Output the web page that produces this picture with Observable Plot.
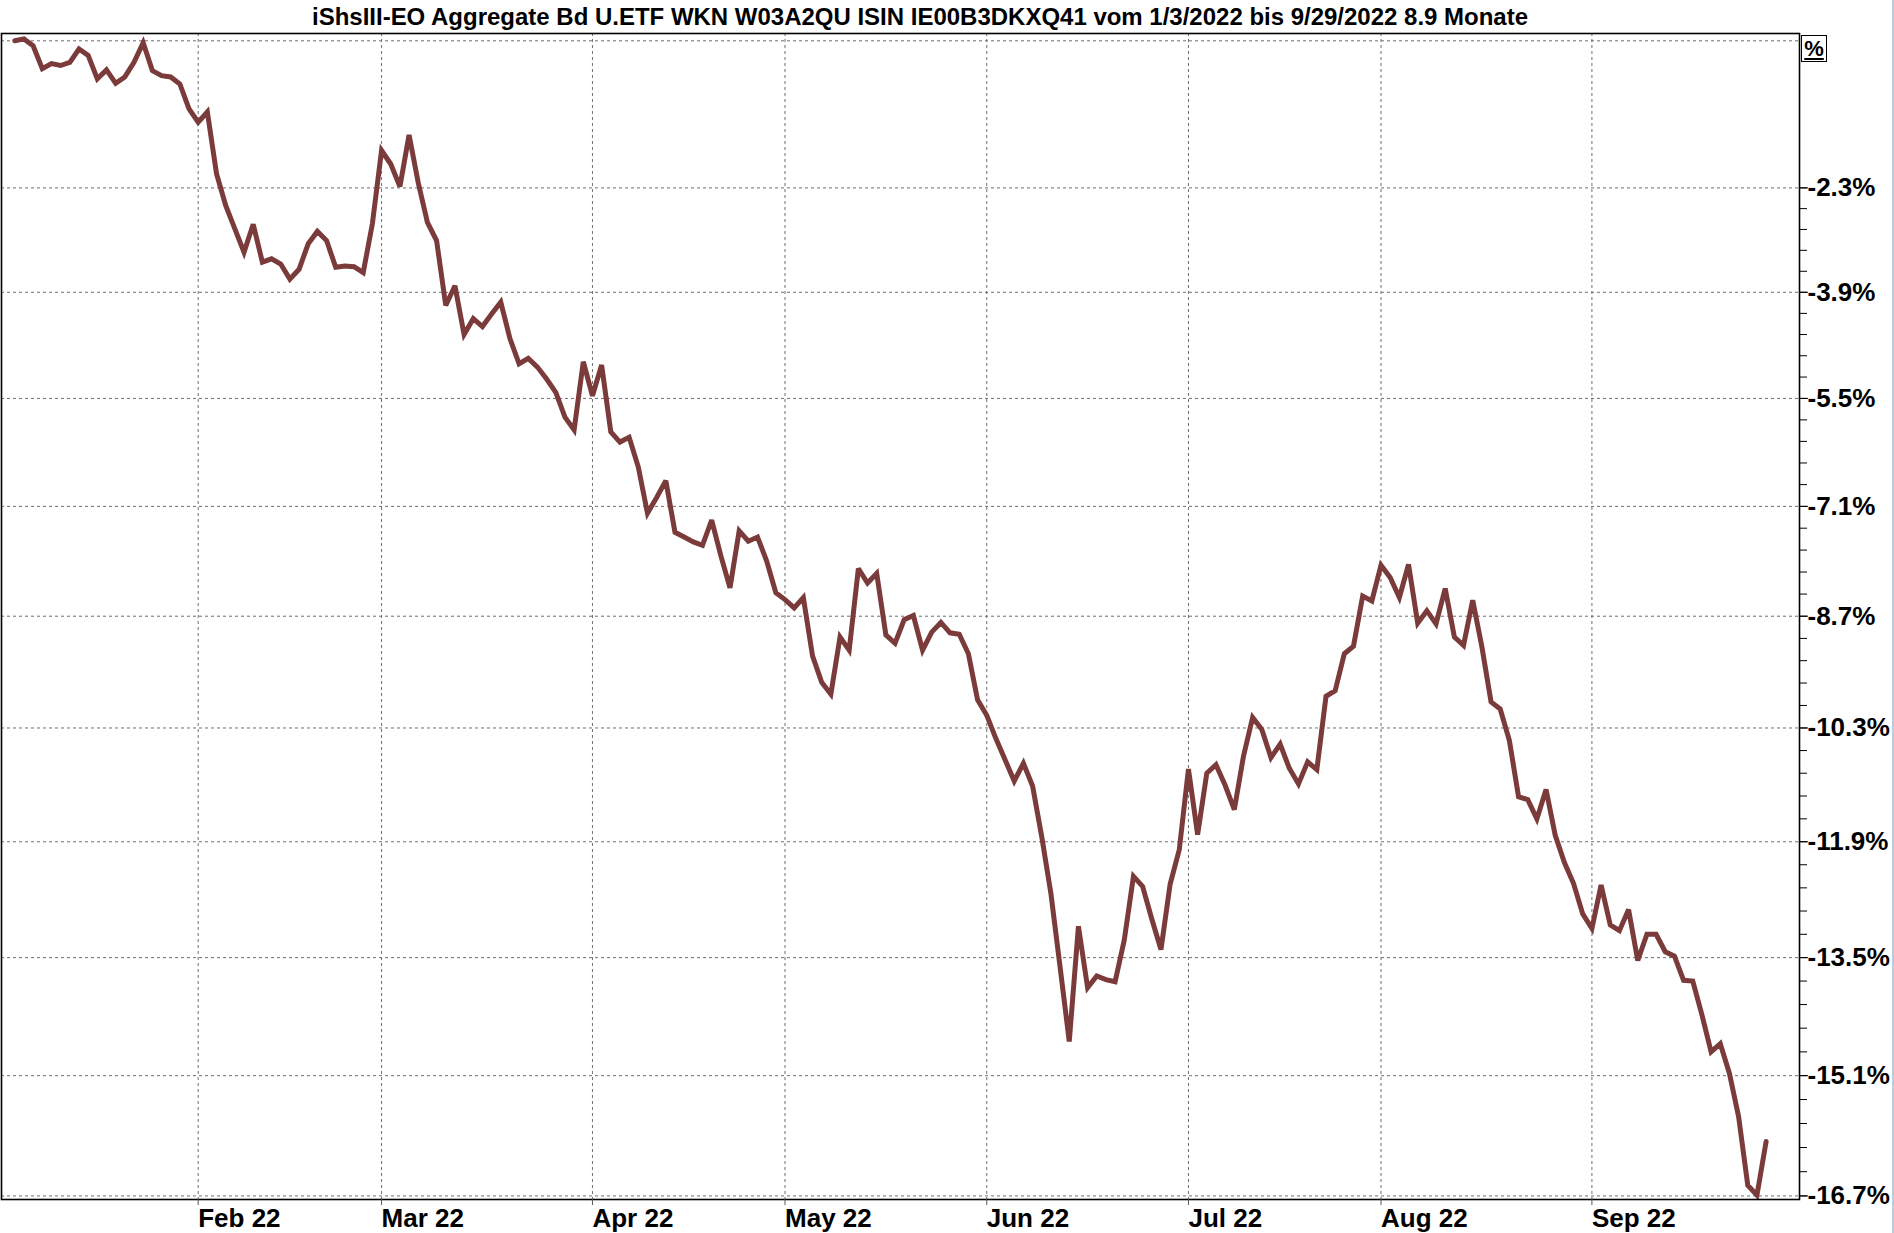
<!DOCTYPE html>
<html><head><meta charset="utf-8">
<script src="https://cdn.jsdelivr.net/npm/d3@7"></script>
<script src="https://cdn.jsdelivr.net/npm/@observablehq/plot@0.6"></script>
<style>
html,body{margin:0;padding:0;background:#fff;}
#wrap{position:relative;width:1894px;height:1233px;overflow:hidden;font-family:"Liberation Sans",Arial,sans-serif;}
#chart{position:absolute;left:0;top:0;}
#title{position:absolute;left:312px;top:6px;font-weight:bold;font-size:23px;line-height:1;white-space:nowrap;transform-origin:0 0;color:#000;}
#pct{position:absolute;left:1801px;top:35px;width:26px;height:27px;box-sizing:border-box;border:1px solid #000;font-weight:bold;font-size:22px;text-decoration:underline;text-align:center;line-height:25px;color:#000;}
#edge{position:absolute;right:0;top:0;width:2px;height:1233px;background:#b7cddd;}
</style></head><body>
<div id="wrap"><div id="chart"></div><div id="title"></div><div id="pct">%</div><div id="edge"></div></div>
<script>
const titleText = "iShsIII-EO Aggregate Bd U.ETF WKN W03A2QU ISIN IE00B3DKXQ41 vom 1/3/2022 bis 9/29/2022 8.9 Monate";

// trading-day index of the first value (Jan 3 2022 = 0)
const startIndex = 1;
// performance in % since start, one value per trading day
const values = [
  0.00, 0.03, -0.08, -0.44, -0.36, -0.39, -0.34, -0.13, -0.23, -0.60,
  -0.46, -0.67, -0.57, -0.34, -0.03, -0.47, -0.55, -0.57, -0.68, -1.07,
  -1.28, -1.12, -2.08, -2.57, -2.93, -3.29, -2.86, -3.44, -3.39, -3.47,
  -3.70, -3.55, -3.16, -2.97, -3.11, -3.52, -3.50, -3.51, -3.60, -2.85,
  -1.72, -1.93, -2.28, -1.48, -2.22, -2.83, -3.11, -4.10, -3.80, -4.54,
  -4.30, -4.42, -4.23, -4.05, -4.60, -4.98, -4.90, -5.03, -5.21, -5.41,
  -5.78, -5.97, -4.95, -5.46, -5.00, -6.00, -6.15, -6.08, -6.52, -7.20,
  -6.97, -6.72, -7.48, -7.55, -7.62, -7.67, -7.30, -7.82, -8.29, -7.46,
  -7.61, -7.55, -7.90, -8.36, -8.46, -8.58, -8.43, -9.27, -9.65, -9.82,
  -9.00, -9.19, -8.01, -8.22, -8.08, -8.97, -9.09, -8.75, -8.69, -9.19,
  -8.93, -8.79, -8.94, -8.96, -9.24, -9.90, -10.12, -10.45, -10.75, -11.05,
  -10.80, -11.12, -11.83, -12.62, -13.63, -14.64, -13.07, -13.91, -13.75, -13.80,
  -13.83, -13.26, -12.38, -12.52, -12.97, -13.39, -12.49, -12.01, -10.88, -11.80,
  -10.94, -10.82, -11.11, -11.45, -10.70, -10.15, -10.32, -10.72, -10.53, -10.87,
  -11.09, -10.78, -10.89, -9.85, -9.77, -9.24, -9.13, -8.41, -8.48, -7.96,
  -8.14, -8.43, -7.95, -8.80, -8.62, -8.81, -8.30, -9.00, -9.12, -8.47,
  -9.14, -9.93, -10.03, -10.48, -11.27, -11.31, -11.58, -11.17, -11.81, -12.19,
  -12.48, -12.90, -13.10, -12.50, -13.05, -13.13, -12.84, -13.54, -13.18, -13.18,
  -13.42, -13.48, -13.81, -13.82, -14.28, -14.78, -14.67, -15.07, -15.65, -16.56,
  -16.69, -15.98
];

// month starts as trading-day indices, and their labels
const monthTicks = [21, 41, 64, 85, 107, 129, 150, 173];
const monthLabels = ["Feb 22", "Mar 22", "Apr 22", "May 22", "Jun 22", "Jul 22", "Aug 22", "Sep 22"];

// labelled percent ticks on the right
const yTickLabels = [-2.3, -3.9, -5.5, -7.1, -8.7, -10.3, -11.9, -13.5, -15.1, -16.7];
const gridPercents = [0, ...yTickLabels];
const minorStep = 0.32;

const data = values.map((v, i) => ({t: startIndex + i, v: 100 + v}));
const minorTicks = d3.range(0, 46).map(k => 100 + (-2.3 - minorStep * k));

const gridStyle = {stroke: "#6f6f6f", strokeOpacity: 1, strokeWidth: 1, strokeDasharray: "3,3"};

const chart = Plot.plot({
  width: 1894,
  height: 1233,
  marginTop: 33,
  marginBottom: 34,
  marginLeft: 1,
  marginRight: 95,
  style: {fontFamily: '"Liberation Sans", Arial, sans-serif', background: "#fff", color: "#000", overflow: "visible"},
  x: {domain: [-0.45, 195.64], label: null},
  y: {type: "log", domain: [83.253, 100.1155], label: null},
  marks: [
    Plot.gridX(monthTicks, gridStyle),
    Plot.gridY(gridPercents.map(d => 100 + d), gridStyle),
    Plot.lineY(data, {x: "t", y: "v", stroke: "#7b3b3b", strokeWidth: 5, strokeLinejoin: "miter", strokeMiterlimit: 3}),
    Plot.frame({stroke: "#000", strokeWidth: 1.6}),
    Plot.axisX(monthTicks, {
      anchor: "bottom", tickSize: 6, tickPadding: 3, textAnchor: "start",
      fontSize: 26, fontWeight: "bold", label: null, stroke: "#555",
      tickFormat: d => monthLabels[monthTicks.indexOf(d)]
    }),
    Plot.axisY(minorTicks, {anchor: "right", tickSize: 7, tickFormat: () => "", label: null}),
    Plot.axisY(yTickLabels.map(d => 100 + d), {
      anchor: "right", tickSize: 8, tickPadding: 0, fontSize: 26, fontWeight: "bold",
      label: null, tickFormat: d => (d - 100).toFixed(1) + "%"
    })
  ]
});
document.getElementById("chart").appendChild(chart);

const t = document.getElementById("title");
t.textContent = titleText;
const w = t.getBoundingClientRect().width;
t.style.transform = `scaleX(${1216 / w})`;
</script>
</body></html>
